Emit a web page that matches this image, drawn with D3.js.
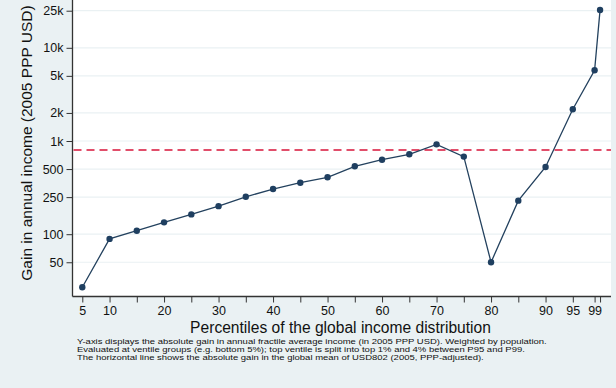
<!DOCTYPE html>
<html>
<head>
<meta charset="utf-8">
<script src="https://cdn.jsdelivr.net/npm/d3@7"></script>
<style>
  body { margin: 0; background: #eaf1f3; }
  svg { display: block; font-family: "Liberation Sans", Arial, sans-serif; }
</style>
</head>
<body>
<svg id="chart" width="616" height="388"></svg>
<script>
// percentile groups and absolute gain (2005 PPP USD)
const percentiles = [5, 10, 15, 20, 25, 30, 35, 40, 45, 50, 55, 60, 65, 70, 75, 80, 85, 90, 95, 99, 100];
const gains = [27, 89, 109, 134, 163, 200, 252, 305, 357, 408, 535, 630, 720, 920, 680, 50, 229, 526, 2190, 5740, 25400];
const globalMean = 802;

const yTicks = [50, 100, 250, 500, 1000, 2000, 5000, 10000, 25000];
const yTickLabels = ["50", "100", "250", "500", "1k", "2k", "5k", "10k", "25k"];
const xTicks = [5, 10, 15, 20, 25, 30, 35, 40, 45, 50, 55, 60, 65, 70, 75, 80, 85, 90, 95, 99, 100];
const xTickLabels = [5, 10, 20, 30, 40, 50, 60, 70, 80, 90, 95, 99];

const footnote = [
    "Y-axis displays the absolute gain in annual fractile average income (in 2005 PPP USD). Weighted by population.",
    "Evaluated at ventile groups (e.g. bottom 5%); top ventile is split into top 1% and 4% between P95 and P99.",
    "The horizontal line shows the absolute gain in the global mean of USD802 (2005, PPP-adjusted)."
];

const svg = d3.select("#chart");

// plot area
const plotLeft = 72.5, plotRight = 611, plotTop = 0, plotBottom = 296.5;

const x = d3.scaleLinear()
    .domain([5 - (82.3 - plotLeft) / 5.45, 5 + (plotRight - 82.3) / 5.45])
    .range([plotLeft, plotRight]);

// ~93.2px per decade, 1k at y=141
const y = d3.scaleLog()
    .domain([1000 * Math.pow(10, -(plotBottom - 141) / 93.2), 1000 * Math.pow(10, (141 - plotTop) / 93.2)])
    .range([plotBottom, plotTop]);

svg.append("rect")
    .attr("x", plotLeft).attr("y", plotTop)
    .attr("width", plotRight - plotLeft).attr("height", plotBottom - plotTop)
    .attr("fill", "#ffffff");

// grid lines
svg.append("g")
    .selectAll("line")
    .data(yTicks)
    .enter()
    .append("line")
    .attr("x1", plotLeft).attr("x2", plotRight)
    .attr("y1", d => y(d)).attr("y2", d => y(d))
    .attr("stroke", "#eaf1f3")
    .attr("stroke-width", 1.2);

// y axis
const yAxis = d3.axisLeft(y)
    .tickValues(yTicks)
    .tickFormat((d, i) => yTickLabels[i])
    .tickSize(6)
    .tickPadding(3);

const gy = svg.append("g")
    .attr("transform", `translate(${plotLeft},0)`)
    .call(yAxis);
gy.select(".domain").attr("d", `M0,${plotTop}V${plotBottom}`).attr("stroke", "#333").attr("stroke-width", 1.3);
gy.selectAll(".tick line").attr("stroke", "#333");
gy.selectAll(".tick text").attr("font-size", 12.5).attr("fill", "#111");

// x axis
const xAxis = d3.axisBottom(x)
    .tickValues(xTicks)
    .tickFormat(d => xTickLabels.includes(d) ? d : "")
    .tickSize(6)
    .tickPadding(4);

const gx = svg.append("g")
    .attr("transform", `translate(0,${plotBottom})`)
    .call(xAxis);
gx.select(".domain").attr("d", `M${plotLeft},0H${plotRight}`).attr("stroke", "#333").attr("stroke-width", 1.3);
gx.selectAll(".tick line").attr("stroke", "#333");
gx.selectAll(".tick text").attr("font-size", 12.5).attr("fill", "#111");

// global mean line
svg.append("line")
    .attr("x1", plotLeft + 1).attr("x2", plotRight)
    .attr("y1", y(globalMean)).attr("y2", y(globalMean))
    .attr("stroke", "#d7153a")
    .attr("stroke-width", 1.6)
    .attr("stroke-dasharray", "8,5");

// series line and markers
const line = d3.line()
    .x((d, i) => x(percentiles[i]))
    .y(d => y(d));

svg.append("path")
    .datum(gains)
    .attr("d", line)
    .attr("fill", "none")
    .attr("stroke", "#23415e")
    .attr("stroke-width", 1.3);

svg.append("g")
    .selectAll("circle")
    .data(gains)
    .enter()
    .append("circle")
    .attr("cx", (d, i) => x(percentiles[i]))
    .attr("cy", d => y(d))
    .attr("r", 3.2)
    .attr("fill", "#1f3f60");

// axis titles
svg.append("text")
    .attr("x", 340.5).attr("y", 332.5)
    .attr("text-anchor", "middle")
    .attr("font-size", 15.6)
    .attr("fill", "#111")
    .text("Percentiles of the global income distribution");

svg.append("text")
    .attr("transform", "translate(32,143) rotate(-90)")
    .attr("text-anchor", "middle")
    .attr("font-size", 15.5)
    .attr("fill", "#111")
    .text("Gain in annual income (2005 PPP USD)");

// footnote (stata's small text is a bit squat, hence the vertical squeeze)
svg.append("g")
    .selectAll("text")
    .data(footnote)
    .enter()
    .append("text")
    .attr("transform", (d, i) => `translate(77,${344 + i * 7.8}) scale(1,0.73)`)
    .attr("font-size", 9.5)
    .attr("fill", "#111")
    .text(d => d);
</script>
</body>
</html>
